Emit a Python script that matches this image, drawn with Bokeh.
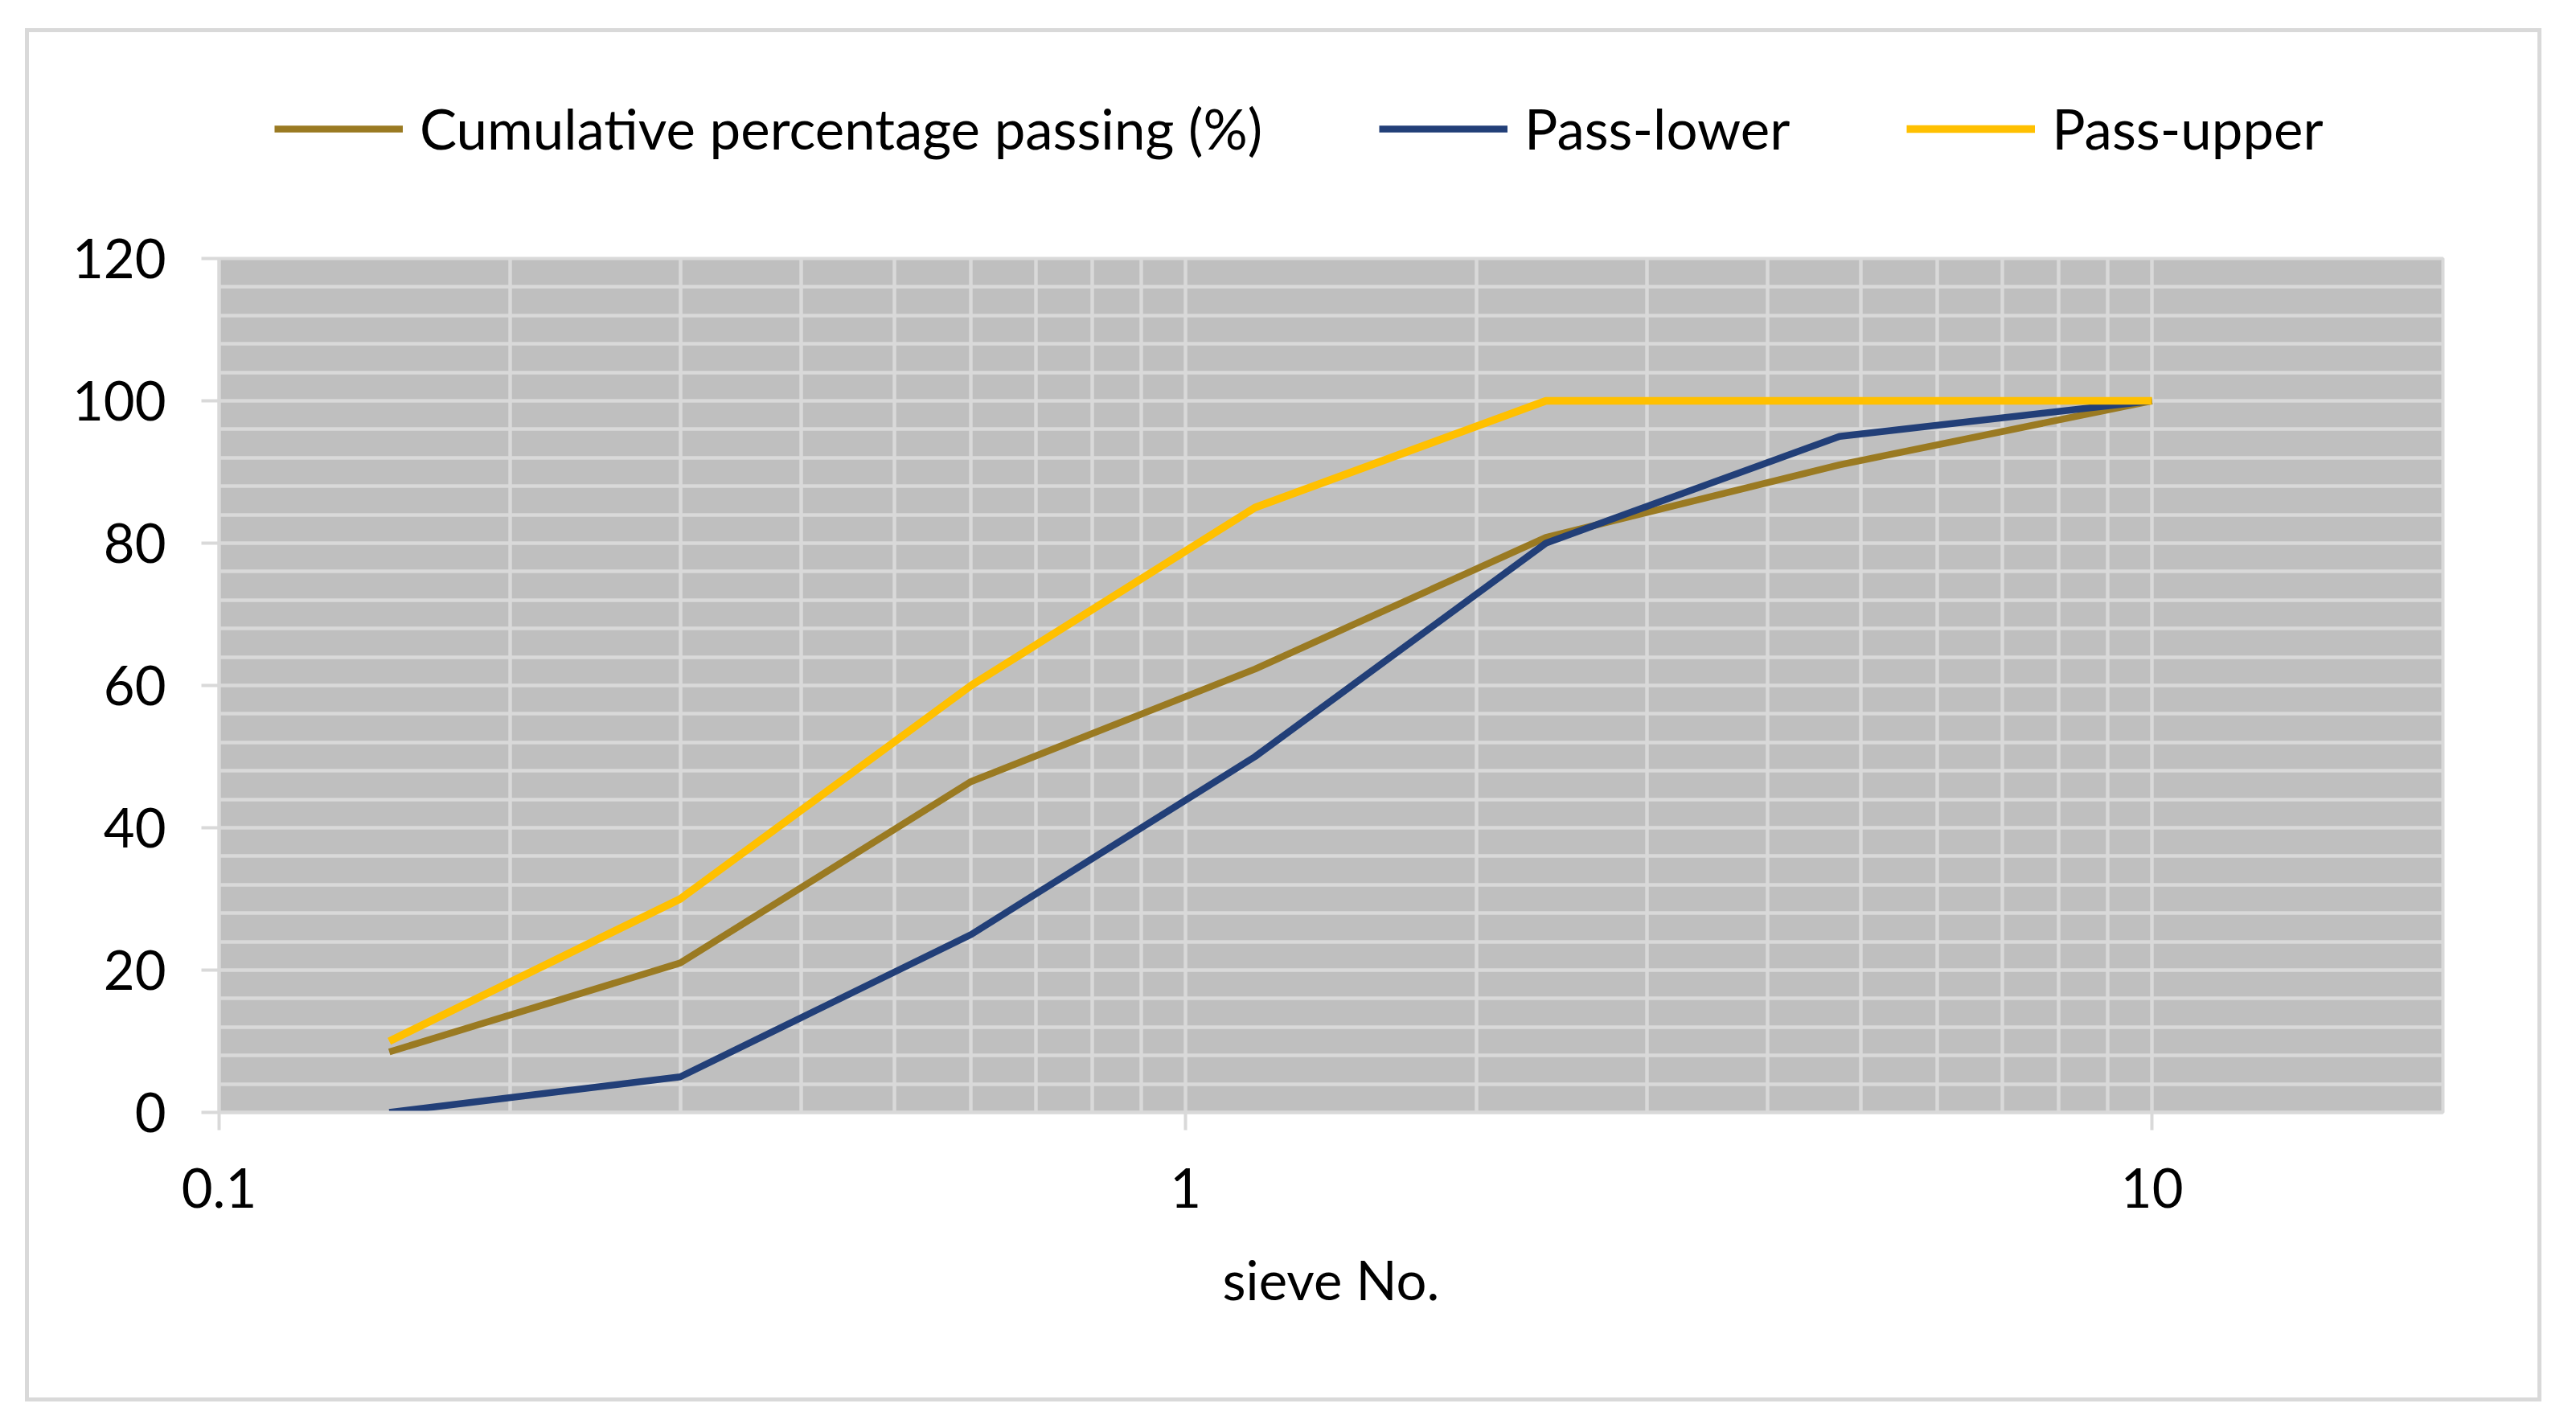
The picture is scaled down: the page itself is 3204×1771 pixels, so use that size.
from bokeh.plotting import figure
from bokeh.layouts import column
from bokeh.models import Range1d, FixedTicker, Legend, LegendItem
from bokeh.embed import file_html
from bokeh.resources import INLINE

# ---------------- data ----------------
sieve_sizes = [0.15, 0.3, 0.6, 1.18, 2.36, 4.75, 10]
cumulative_passing = [8.5, 21, 46.5, 62.3, 80.8, 91, 100]
pass_lower = [0, 5, 25, 50, 80, 95, 100]
pass_upper = [10, 30, 60, 85, 100, 100, 100]

series_names = ["Cumulative percentage passing (%)", "Pass-lower", "Pass-upper"]

x_major_ticks = [0.1, 1, 10]
x_minor_ticks = [0.2, 0.3, 0.4, 0.5, 0.6, 0.7, 0.8, 0.9, 2, 3, 4, 5, 6, 7, 8, 9]
x_tick_labels = {0.1: "0.1", 1: "1", 10: "10"}
y_major_ticks = [0, 20, 40, 60, 80, 100, 120]
y_minor_ticks = [v for v in range(4, 120, 4) if v % 20 != 0]
x_title = "sieve No."

# ---------------- styles ----------------
FONT = "Lato"
FSIZE = "67px"
LEG_FSIZE = "69px"
GRID = "#d9d9d9"
colors = ["#9a7a22", "#223f78", "#ffc000"]
widths = [8.5, 8.5, 9.5]
series = [cumulative_passing, pass_lower, pass_upper]
W = 3120
LEFT, RIGHT = 236, 118

# ---------- legend strip (top part of the chart box) ----------
# ranges lie away from the data, so only the legend shows in this strip
lf = figure(
    width=W, height=221,
    x_range=Range1d(-10, -9), y_range=Range1d(-10, -9),
    x_axis_location=None, y_axis_location=None,
    output_backend="svg", toolbar_location=None,
    min_border_left=LEFT, min_border_right=RIGHT,
    min_border_top=0, min_border_bottom=0,
    background_fill_color="white", border_fill_color="white",
    outline_line_color=None,
)
lf.xgrid.visible = False
lf.ygrid.visible = False
leg_renderers = []
for ys, c, w in zip(series, colors, widths):
    leg_renderers.append(lf.line(sieve_sizes, ys, line_color=c, line_width=w))

legend = Legend(
    items=[LegendItem(label=n, renderers=[r]) for n, r in zip(series_names, leg_renderers)],
    location=(69, 60), orientation="horizontal",
    padding=0, margin=0, spacing=145, label_standoff=21,
    glyph_width=160, glyph_height=40,
    label_text_font=FONT, label_text_font_size=LEG_FSIZE,
    label_text_color="black",
    background_fill_alpha=0, border_line_color=None,
)
lf.add_layout(legend, "center")

# ---------- main chart ----------
p = figure(
    width=W, height=1477,
    x_axis_type="log",
    x_range=Range1d(0.1, 20), y_range=Range1d(0, 120),
    output_backend="svg", toolbar_location=None,
    min_border_left=LEFT, min_border_right=RIGHT,
    min_border_top=60, min_border_bottom=355,
    background_fill_color="#bfbfbf", border_fill_color="white",
    outline_line_color=GRID, outline_line_width=4,
)

xt = FixedTicker(ticks=x_major_ticks, minor_ticks=x_minor_ticks)
yt = FixedTicker(ticks=y_major_ticks, minor_ticks=y_minor_ticks)
p.xaxis.ticker = xt
p.yaxis.ticker = yt
p.xgrid.ticker = xt
p.ygrid.ticker = yt
p.xaxis.major_label_overrides = x_tick_labels

for g in (p.xgrid, p.ygrid):
    g.grid_line_color = GRID
    g.grid_line_width = 4.5
    g.minor_grid_line_color = GRID
    g.minor_grid_line_width = 4.5

for ax in (p.xaxis, p.yaxis):
    ax.axis_line_color = GRID
    ax.axis_line_width = 4
    ax.major_tick_line_color = GRID
    ax.major_tick_line_width = 4
    ax.major_tick_in = 0
    ax.major_tick_out = 22
    ax.minor_tick_line_color = None
    ax.major_label_text_font = FONT
    ax.major_label_text_font_size = FSIZE
    ax.major_label_text_color = "black"

p.yaxis.major_label_standoff = 44
p.xaxis.major_label_standoff = 47
p.xaxis.axis_label = x_title
p.xaxis.axis_label_text_font = FONT
p.xaxis.axis_label_text_font_size = FSIZE
p.xaxis.axis_label_text_font_style = "normal"
p.xaxis.axis_label_text_color = "black"
p.xaxis.axis_label_standoff = 46

for ys, c, w in zip(series, colors, widths):
    p.line(sieve_sizes, ys, line_color=c, line_width=w)

layout = column(lf, p, spacing=0)
layout.margin = (35, 0, 0, 31)
layout.styles = {"border": "5px solid #d9d9d9"}

open("out.html", "w").write(file_html(layout, INLINE))
